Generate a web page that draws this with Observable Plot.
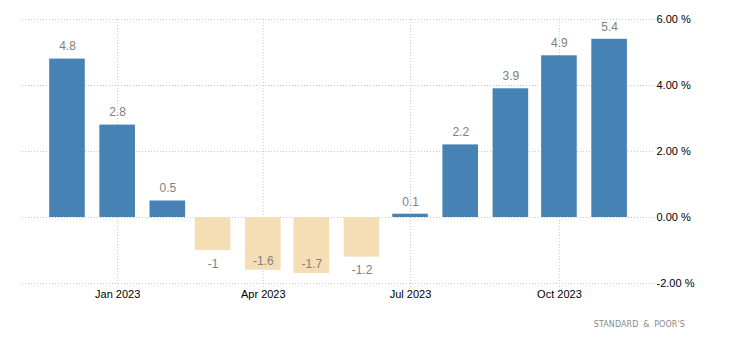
<!DOCTYPE html>
<html>
<head>
<meta charset="utf-8">
<script src="https://cdn.jsdelivr.net/npm/d3@7"></script>
<script src="https://cdn.jsdelivr.net/npm/@observablehq/plot@0.6"></script>
<style>
  body { margin: 0; background: #fff; }
  #chart { width: 730px; font-family: "Liberation Sans", Arial, sans-serif; }
  #caption { width: 730px; box-sizing: border-box; text-align: right; padding-right: 45px;
    font-family: "DejaVu Sans", sans-serif; font-size: 8px; letter-spacing: 0.1px; word-spacing: 2px; color: #8a8a8a;
    margin-top: 10px; line-height: 10px; }
</style>
</head>
<body>
<div id="chart"></div>
<div id="caption">STANDARD &amp; POOR'S</div>
<script>
const months = ["2022-12-01","2023-01-01","2023-02-01","2023-03-01","2023-04-01","2023-05-01","2023-06-01","2023-07-01","2023-08-01","2023-09-01","2023-10-01","2023-11-01"];
const values = [4.8, 2.8, 0.5, -1, -1.6, -1.7, -1.2, 0.1, 2.2, 3.9, 4.9, 5.4];
const xTicks = ["2023-01-01","2023-04-01","2023-07-01","2023-10-01"];
const yTicks = [-2, 0, 2, 4, 6];

const data = months.map((m, i) => ({date: new Date(m + "T00:00:00Z"), value: values[i]}));
const tickDates = xTicks.map(t => new Date(t + "T00:00:00Z"));
const halfWidthDays = 11;

const plot = Plot.plot({
  width: 730,
  height: 310,
  marginLeft: 22,
  marginRight: 77,
  marginTop: 19,
  marginBottom: 27,
  style: {fontFamily: "'Liberation Sans', Arial, sans-serif", fontSize: "11px", color: "#000", background: "#fff"},
  x: {type: "utc", domain: [new Date(Date.UTC(2022, 10, 3, 5)), new Date(Date.UTC(2023, 10, 28, 3))], label: null},
  y: {domain: [-2, 6], label: null},
  marks: [
    Plot.ruleY(yTicks, {stroke: "#c8c8c8", strokeDasharray: "1,2"}),
    Plot.ruleX(tickDates, {y1: 6, y2: -2, insetBottom: -4, stroke: "#c8c8c8", strokeDasharray: "1,2"}),
    Plot.rectY(data, {
      x1: d => d3.utcDay.offset(d.date, -halfWidthDays),
      x2: d => d3.utcDay.offset(d.date, halfWidthDays),
      y1: 0, y2: "value",
      fill: d => d.value >= 0 ? "#4682b4" : "#f5deb3"
    }),
    Plot.text(data.filter(d => d.value >= 0), {x: "date", y: "value", text: d => String(d.value), dy: -12.5, fill: "#808080", fontSize: 12}),
    Plot.text(data.filter(d => d.value < 0 && d.value >= -1.5), {x: "date", y: "value", text: d => String(d.value), dy: 13.5, fill: "#808080", fontSize: 12}),
    Plot.text(data.filter(d => d.value < -1.5), {x: "date", y: "value", text: d => String(d.value), dy: -9.5, fill: "#808080", fontSize: 12}),
    Plot.axisY({ticks: yTicks, anchor: "right", tickSize: 0, tickPadding: 3, tickFormat: d => d.toFixed(2) + " %", fontSize: 11}),
    Plot.axisX({ticks: tickDates, anchor: "bottom", tickSize: 0, tickPadding: 7, tickFormat: d3.utcFormat("%b %Y"), fontSize: 11})
  ]
});
document.getElementById("chart").appendChild(plot);
</script>
</body>
</html>
